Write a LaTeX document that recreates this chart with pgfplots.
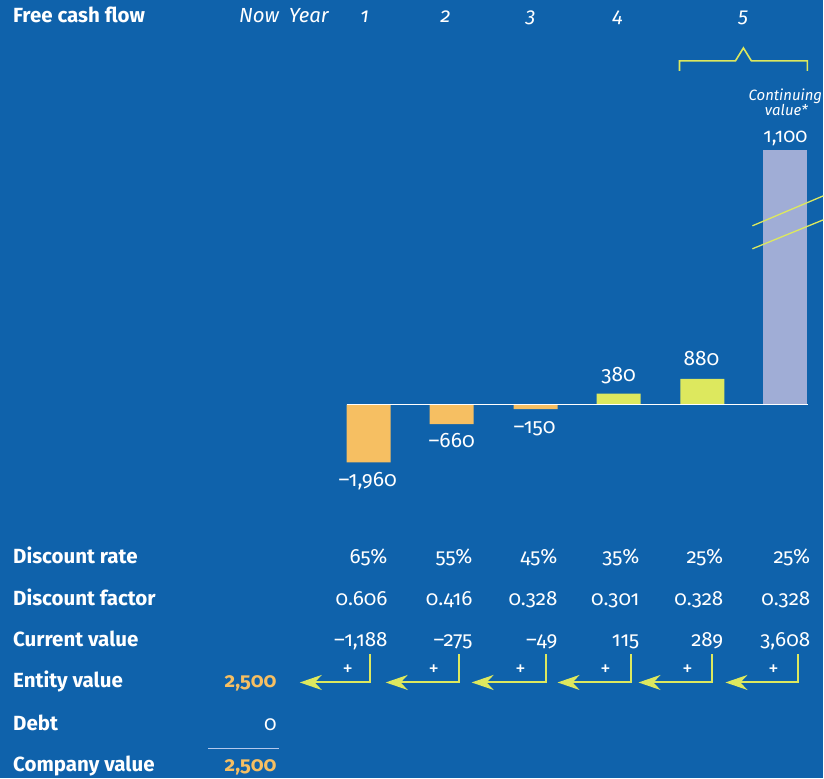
\documentclass[border=0pt]{standalone}
\usepackage{pgfplots}
\pgfplotsset{compat=1.18}
\usepackage{fontspec}
\setmainfont{Fira Sans}[Numbers=OldStyle]
\usetikzlibrary{arrows.meta}
\definecolor{bg}{HTML}{0F62AB}
\definecolor{orng}{HTML}{F6BF62}
\definecolor{ylw}{HTML}{DDE85E}
\definecolor{lav}{HTML}{A0ADD6}
\definecolor{rule}{HTML}{B4C8EC}
\newcommand\lab{\fontsize{20.6}{23}\selectfont\bfseries}
\newcommand\val{\fontsize{20.7}{23}\selectfont}
\newcommand\hdr{\fontsize{20.5}{23}\selectfont\itshape}
\begin{document}
\begin{tikzpicture}
\fill[bg] (0,0) rectangle (824bp,779bp);
\begin{axis}[at={(0,0)}, anchor=south west, scale only axis,
  width=824bp, height=779bp, xmin=0, xmax=824, ymin=-12716, ymax=13770,
  hide axis, clip=false, ybar, bar width=44]
\addplot[fill=orng, draw=none, bar shift=0pt] coordinates {(369,-1960) (452,-660) (536,-150)};
\addplot[fill=ylw, draw=none, bar shift=0pt] coordinates {(619,380) (703,880)};
% continuing value 1,100 drawn with a broken (not-to-scale) bar
\addplot[fill=lav, draw=none, bar shift=0pt] coordinates {(786,8670)};
\draw[white, line width=1.6bp] (axis cs:347,0) -- (axis cs:809,0);
\end{axis}
\begin{scope}[shift={(0,779bp)}, x=1bp, y=-1bp, text=white]
% break marks
\draw[ylw, line width=1.3bp] (753,226) -- (824,196);
\draw[ylw, line width=1.3bp] (753,249) -- (824,220);
% brace
\draw[ylw, line width=1.6bp] (680,71) -- (680,61) -- (736,61) -- (744,48) -- (752,61) -- (808,61) -- (808,71);
% header
\node[anchor=base west, inner sep=0, font=\lab] at (13,23) {Free cash flow};
\node[anchor=base west, inner sep=0, font=\hdr] at (239,23) {Now};
\node[anchor=base west, inner sep=0, font=\hdr] at (289,23) {Year};
\foreach \x/\t in {365/1,446/2,531/3,618/4,744/5}
  \node[anchor=base, inner sep=0, font=\hdr] at (\x,23) {\t};
\node[anchor=base, inner sep=0, font=\fontsize{15}{17}\selectfont\itshape] at (786,101) {Continuing};
\node[anchor=base, inner sep=0, font=\fontsize{15}{17}\selectfont\itshape] at (787,116) {value*};
\node[anchor=base, inner sep=0, font=\fontsize{20}{22}\selectfont] at (786,143) {1,100};
% bar labels
\node[anchor=base, inner sep=0, font=\fontsize{21}{23}\selectfont] at (368,487) {–1,960};
\node[anchor=base, inner sep=0, font=\fontsize{21}{23}\selectfont] at (452,448) {–660};
\node[anchor=base, inner sep=0, font=\fontsize{21}{23}\selectfont] at (535,434) {–150};
\node[anchor=base, inner sep=0, font=\fontsize{21}{23}\selectfont] at (619,382) {380};
\node[anchor=base, inner sep=0, font=\fontsize{21}{23}\selectfont] at (702,366) {880};
% row labels
\foreach \y/\t in {564/Discount rate,606/Discount factor,647/Current value,688/Entity value,731/Debt,772/Company value}
  \node[anchor=base west, inner sep=0, font=\lab] at (13,\y) {\t};
% rows of values
\foreach \x/\a/\b/\c in {388/65\%/0.606/{–1,188}, 473/55\%/0.416/–275, 558/45\%/0.328/–49, 640/35\%/0.301/115, 724/25\%/0.328/289, 811/25\%/0.328/{3,608}}{
  \node[anchor=base east, inner sep=0, font=\val] at (\x,564) {\a};
  \node[anchor=base east, inner sep=0, font=\val] at (\x,606) {\b};
  \node[anchor=base east, inner sep=0, font=\val] at (\x,647) {\c};
}
% arrows
\foreach \v/\t/\p in {370/300/348, 459/386/434, 546/472/521, 631/558/606, 713/639/688, 799/726/774}{
  \draw[ylw, line width=2bp, -{Stealth[length=22bp,width=15bp,inset=7bp]}] (\v,655) -- (\v,683) -- (\t,683);
  \node[anchor=center, inner sep=0, font=\val] at (\p,671) {+};
}
\node[anchor=base east, inner sep=0, font=\lab, text=orng] at (277,688) {2,500};
\node[anchor=base east, inner sep=0, font=\val] at (277,731) {0};
\draw[rule, line width=1.3bp] (208,749) -- (279,749);
\node[anchor=base east, inner sep=0, font=\lab, text=orng] at (277,772) {2,500};
\end{scope}
\end{tikzpicture}
\end{document}
